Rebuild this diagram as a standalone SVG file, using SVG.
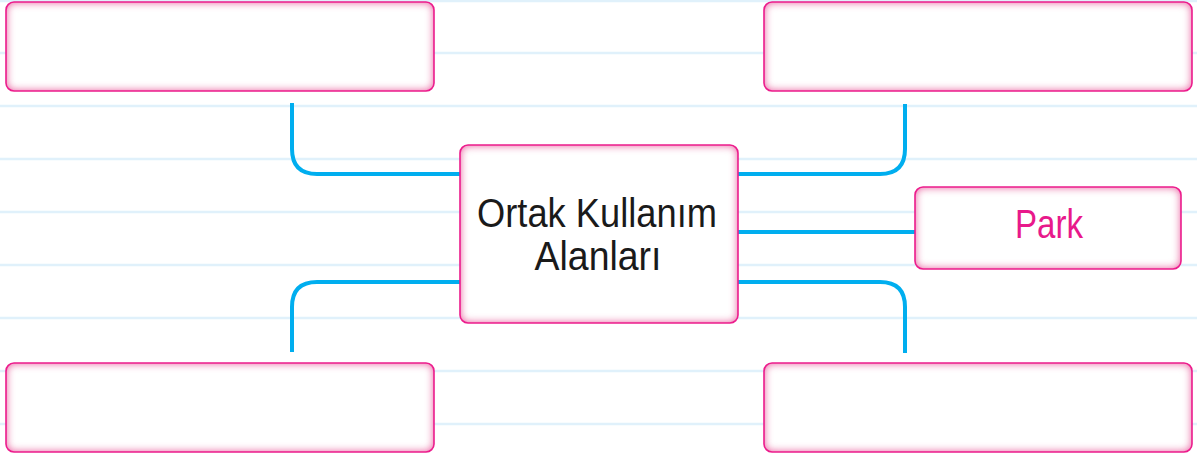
<svg xmlns="http://www.w3.org/2000/svg" width="1197" height="458" viewBox="0 0 1197 458">
  <defs>
    <filter id="glow" x="-5%" y="-10%" width="110%" height="120%">
      <feFlood flood-color="#f070b4" result="f"/>
      <feComposite in="f" in2="SourceAlpha" operator="out" result="o"/>
      <feGaussianBlur in="o" stdDeviation="4" result="b"/>
      <feComposite in="b" in2="SourceAlpha" operator="in" result="i"/>
      <feMerge>
        <feMergeNode in="SourceGraphic"/>
        <feMergeNode in="i"/>
        <feMergeNode in="i"/>
      </feMerge>
    </filter>
  </defs>
  <style>
    .rule { stroke: #e0f1fb; stroke-width: 2.5; }
    .box { fill: #ffffff; filter: url(#glow); }
    .edge { fill: none; stroke: #ec1c8c; stroke-width: 1.6; }
    .conn { fill: none; stroke: #00aeef; stroke-width: 4; stroke-linejoin: round; }
    .t { font-family: "Liberation Sans", Arial, sans-serif; }
  </style>
  <rect width="1197" height="458" fill="#ffffff"/>
  <g id="rules">
    <line class="rule" x1="0" y1="1" x2="1197" y2="1"/>
    <line class="rule" x1="0" y1="53" x2="1197" y2="53"/>
    <line class="rule" x1="0" y1="106" x2="1197" y2="106"/>
    <line class="rule" x1="0" y1="159" x2="1197" y2="159"/>
    <line class="rule" x1="0" y1="212" x2="1197" y2="212"/>
    <line class="rule" x1="0" y1="265" x2="1197" y2="265"/>
    <line class="rule" x1="0" y1="318" x2="1197" y2="318"/>
    <line class="rule" x1="0" y1="371" x2="1197" y2="371"/>
    <line class="rule" x1="0" y1="424" x2="1197" y2="424"/>
  </g>
  <g id="connectors">
    <path class="conn" d="M292,103 V149 Q292,174 317,174 H462"/>
    <path class="conn" d="M905,104 V149 Q905,174 880,174 H736"/>
    <path class="conn" d="M736,232 H917"/>
    <path class="conn" d="M462,282 H317 Q292,282 292,307 V352"/>
    <path class="conn" d="M736,282 H880 Q905,282 905,307 V353"/>
  </g>
  <g id="node-top-left">
    <rect class="box" x="6" y="2" width="428" height="89" rx="8"/>
    <rect class="edge" x="6" y="2" width="428" height="89" rx="8"/>
  </g>
  <g id="node-top-right">
    <rect class="box" x="764" y="2" width="428" height="89" rx="8"/>
    <rect class="edge" x="764" y="2" width="428" height="89" rx="8"/>
  </g>
  <g id="node-bottom-left">
    <rect class="box" x="6" y="363" width="428" height="89" rx="8"/>
    <rect class="edge" x="6" y="363" width="428" height="89" rx="8"/>
  </g>
  <g id="node-bottom-right">
    <rect class="box" x="764" y="363" width="428" height="89" rx="8"/>
    <rect class="edge" x="764" y="363" width="428" height="89" rx="8"/>
  </g>
  <g id="node-center">
    <rect class="box" x="460" y="145" width="278" height="178" rx="8"/>
    <rect class="edge" x="460" y="145" width="278" height="178" rx="8"/>
    <text class="t" x="597" y="227" font-size="41" fill="#1a1a1a" text-anchor="middle" textLength="240" lengthAdjust="spacingAndGlyphs">Ortak Kullanım</text>
    <text class="t" x="598" y="270" font-size="41" fill="#1a1a1a" text-anchor="middle" textLength="127" lengthAdjust="spacingAndGlyphs">Alanları</text>
  </g>
  <g id="node-park">
    <rect class="box" x="915" y="187" width="266" height="82" rx="8"/>
    <rect class="edge" x="915" y="187" width="266" height="82" rx="8"/>
    <text class="t" x="1049" y="238" font-size="40" fill="#e8198b" text-anchor="middle" textLength="68" lengthAdjust="spacingAndGlyphs">Park</text>
  </g>
</svg>
